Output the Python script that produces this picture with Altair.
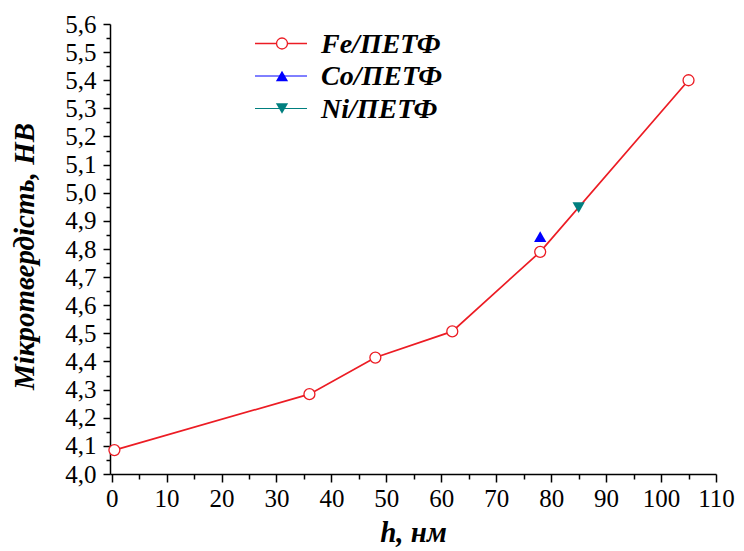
import altair as alt
import pandas as pd

# ---- data ----
fe_x = [0.5, 36, 48, 62, 78, 105]
fe_y = [4.085, 4.284, 4.414, 4.507, 4.79, 5.40]
co_x = [78]
co_y = [4.844]
ni_x = [85]
ni_y = [4.947]

series_names = ["Fe/ПЕТФ", "Co/ПЕТФ", "Ni/ПЕТФ"]
series_colors = ["#ec1c24", "#0000ff", "#007f7f"]
series_shapes = ["circle", "triangle-up", "triangle-down"]

x_major = list(range(0, 111, 10))
x_minor = list(range(5, 110, 10))
y_major = [round(4.0 + 0.1 * i, 2) for i in range(17)]
y_minor = [round(4.05 + 0.1 * i, 2) for i in range(16)]

FONT = "Liberation Serif"

fe = pd.DataFrame({"x": fe_x, "y": fe_y})
co = pd.DataFrame({"x": co_x, "y": co_y})
ni = pd.DataFrame({"x": ni_x, "y": ni_y})

xscale = alt.Scale(domain=[-0.3, 110], nice=False, zero=False)
yscale = alt.Scale(domain=[4.0, 5.6], nice=False, zero=False)

x_main_axis = alt.Axis(
    values=x_major, tickSize=8, tickWidth=1.5, domainWidth=1.5, domainColor="black",
    tickColor="black", labelFont=FONT, labelFontSize=25, labelColor="black",
    labelPadding=4, labelOverlap=False, labelFlush=False, grid=False, orient="bottom",
    title="h, нм", titleFont=FONT, titleFontSize=29, titleFontWeight="bold",
    titleFontStyle="italic", titleColor="black", titleY=67, titleBaseline="alphabetic",
)
y_main_axis = alt.Axis(
    values=y_major, tickSize=7, tickWidth=1.5, domainWidth=1.5, domainColor="black",
    tickColor="black", labelFont=FONT, labelFontSize=25, labelColor="black",
    labelPadding=7, labelOverlap=False, labelFlush=False, grid=False, orient="left",
    labelExpr="replace(format(datum.value, '.1f'), '.', ',')",
    title="Мікротвердість, НВ", titleFont=FONT, titleFontSize=29, titleFontWeight="bold",
    titleFontStyle="italic", titleColor="black", titleX=-86, titleY=232,
    titleBaseline="middle", titleAlign="center", titleAngle=-90,
)
x_minor_axis = alt.Axis(values=x_minor, tickSize=5, tickWidth=1.5, tickColor="black",
                        labels=False, domain=False, grid=False, title=None, orient="bottom")
y_minor_axis = alt.Axis(values=y_minor, tickSize=4, tickWidth=1.5, tickColor="black",
                        labels=False, domain=False, grid=False, title=None, orient="left")

fe_line = alt.Chart(fe).mark_line(color=series_colors[0], strokeWidth=1.7).encode(
    x=alt.X("x:Q", scale=xscale, axis=x_main_axis),
    y=alt.Y("y:Q", scale=yscale, axis=y_main_axis),
)
minor = alt.Chart(fe).mark_point(opacity=0).encode(
    x=alt.X("x:Q", scale=xscale, axis=x_minor_axis),
    y=alt.Y("y:Q", scale=yscale, axis=y_minor_axis),
)
fe_pts = alt.Chart(fe).mark_point(shape="circle", size=120, filled=True, fill="white",
                                   stroke=series_colors[0], strokeWidth=1.3, opacity=1).encode(
    x=alt.X("x:Q", scale=xscale, axis=None), y=alt.Y("y:Q", scale=yscale, axis=None))
co_pts = alt.Chart(co).mark_point(shape="triangle-up", size=150, filled=True,
                                   color=series_colors[1], opacity=1).encode(
    x=alt.X("x:Q", scale=xscale, axis=None), y=alt.Y("y:Q", scale=yscale, axis=None))
ni_pts = alt.Chart(ni).mark_point(shape="triangle-down", size=150, filled=True,
                                   color=series_colors[2], opacity=1).encode(
    x=alt.X("x:Q", scale=xscale, axis=None), y=alt.Y("y:Q", scale=yscale, axis=None))

# ---- legend (manual, top-left inside the plot) ----
legend_layers = []
for i, name in enumerate(series_names):
    ly = 19.5 + 32.5 * i
    d = pd.DataFrame({"label": [name]})
    legend_layers.append(alt.Chart(d).mark_rule(color=series_colors[i], strokeWidth=1.7 if i == 0 else 1.0).encode(
        x=alt.value(145), x2=alt.value(197), y=alt.value(ly)))
    if i == 0:
        legend_layers.append(alt.Chart(d).mark_point(shape="circle", size=120, filled=True, fill="white",
                                                     stroke=series_colors[0], strokeWidth=1.3, opacity=1).encode(
            x=alt.value(172), y=alt.value(ly)))
    else:
        legend_layers.append(alt.Chart(d).mark_point(shape=series_shapes[i], size=150, filled=True,
                                                     color=series_colors[i], opacity=1).encode(
            x=alt.value(172), y=alt.value(ly)))
    legend_layers.append(alt.Chart(d).mark_text(align="left", baseline="middle", font=FONT, fontSize=28,
                                                fontWeight="bold", fontStyle="italic", color="black").encode(
        x=alt.value(211), y=alt.value(ly + 1), text="label:N"))

chart = alt.layer(fe_line, minor, fe_pts, co_pts, ni_pts, *legend_layers).resolve_axis(
    x="independent", y="independent"
).properties(
    width=606, height=450,
    padding={"left": 102, "top": 16, "right": 20, "bottom": 75},
    autosize=alt.AutoSizeParams(type="none"),
    background="white",
).configure_view(stroke=None)

chart.save("out.html", embed_options={"renderer": "svg", "actions": False})
